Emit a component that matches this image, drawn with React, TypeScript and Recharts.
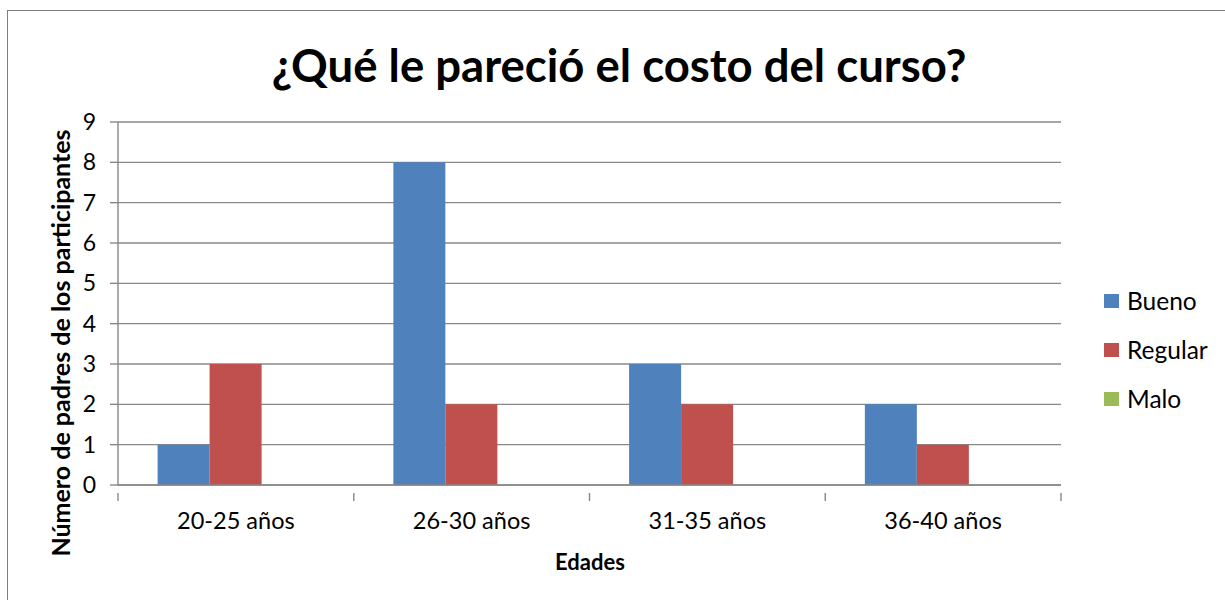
import React from 'react';
import { BarChart, Bar, XAxis, YAxis, CartesianGrid, Legend } from 'recharts';

const categories = ['20-25 años', '26-30 años', '31-35 años', '36-40 años'];
const seriesNames = ['Bueno', 'Regular', 'Malo'];
const bueno = [1, 8, 3, 2];
const regular = [3, 2, 2, 1];
const malo = [0, 0, 0, 0];
const yTicks = [0, 1, 2, 3, 4, 5, 6, 7, 8, 9];

const title = '¿Qué le pareció el costo del curso?';
const yTitle = 'Número de padres de los participantes';
const xTitle = 'Edades';

const FONT = "Lato, 'Open Sans', sans-serif";
const GRID = '#888888';
const COLORS = ['#4F81BD', '#C0504D', '#9BBB59'];

const data = categories.map((edad, i) => ({
  edad,
  Bueno: bueno[i],
  Regular: regular[i],
  Malo: malo[i],
}));

function LegendBox() {
  return (
    <div style={{ paddingLeft: 43 }}>
      {seriesNames.map((name, i) => (
        <div key={name} style={{ display: 'flex', alignItems: 'center', height: 49, whiteSpace: 'nowrap' }}>
          <span style={{ width: 15, height: 14, flexShrink: 0, background: COLORS[i], display: 'inline-block', marginRight: 8 }} />
          <span style={{ fontFamily: FONT, fontSize: 24.5, color: '#000' }}>{name}</span>
        </div>
      ))}
    </div>
  );
}

// category label in the middle, tick marks on the band edges
function EdgeTick(props: any) {
  const { x, y, payload, index, visibleTicksCount } = props;
  const half = payload && payload.offset ? payload.offset : 117.75;
  const last = index === visibleTicksCount - 1;
  return (
    <g>
      <line x1={x - half} x2={x - half} y1={y} y2={y + 8} stroke={GRID} strokeWidth={1.4} />
      {last && <line x1={x + half} x2={x + half} y1={y} y2={y + 8} stroke={GRID} strokeWidth={1.4} />}
      <text x={x} y={y + 36} textAnchor="middle" fontFamily={FONT} fontSize={23.5} fill="#000">
        {payload.value}
      </text>
    </g>
  );
}

export default function App() {
  return (
    <div style={{ position: 'absolute', left: 0, top: 0, width: 1225, height: 600, background: '#fff', overflow: 'hidden' }}>
      <div style={{ position: 'absolute', left: 7, top: 10, width: 1240, height: 620, border: '1.5px solid #7f7f7f', boxSizing: 'border-box' }} />
      <div style={{
        position: 'absolute', left: 0, top: 35, width: 1238, textAlign: 'center',
        fontFamily: FONT, fontWeight: 700, fontSize: 45.5, color: '#000', lineHeight: '60px',
      }}>
        {title}
      </div>
      <div style={{ position: 'absolute', left: 0, top: 0 }}>
        <BarChart
          width={1225}
          height={600}
          data={data}
          margin={{ top: 122, right: 0, bottom: 40, left: 0 }}
          barCategoryGap="16.8%"
          barGap={0}
        >
          <CartesianGrid vertical={false} stroke={GRID} strokeWidth={1.4} />
          <XAxis
            dataKey="edad"
            height={75}
            tickLine={false}
            axisLine={{ stroke: GRID, strokeWidth: 1.4 }}
            tick={<EdgeTick />}
            interval={0}
            label={{
              content: () => (
                <text x={590} y={561} textAnchor="middle" dominantBaseline="central"
                  fontFamily={FONT} fontWeight={700} fontSize={22} fill="#000">
                  {xTitle}
                </text>
              ),
            }}
          />
          <YAxis
            width={118}
            domain={[0, 9]}
            ticks={yTicks}
            interval={0}
            tickSize={8}
            tickMargin={14}
            tickLine={{ stroke: GRID, strokeWidth: 1.4 }}
            axisLine={{ stroke: GRID, strokeWidth: 1.4 }}
            tick={{ fill: '#000', fontSize: 23, fontFamily: FONT }}
            label={{
              content: () => (
                <text x={60} y={343} textAnchor="middle" dominantBaseline="central"
                  transform="rotate(-90 60 343)"
                  fontFamily={FONT} fontWeight={700} fontSize={25} fill="#000">
                  {yTitle}
                </text>
              ),
            }}
          />
          <Legend
            layout="vertical"
            align="right"
            verticalAlign="middle"
            content={<LegendBox />}
            wrapperStyle={{ width: 164, top: 276 }}
          />
          <Bar dataKey="Bueno" fill={COLORS[0]} isAnimationActive={false} />
          <Bar dataKey="Regular" fill={COLORS[1]} isAnimationActive={false} />
          <Bar dataKey="Malo" fill={COLORS[2]} isAnimationActive={false} />
        </BarChart>
      </div>
    </div>
  );
}
